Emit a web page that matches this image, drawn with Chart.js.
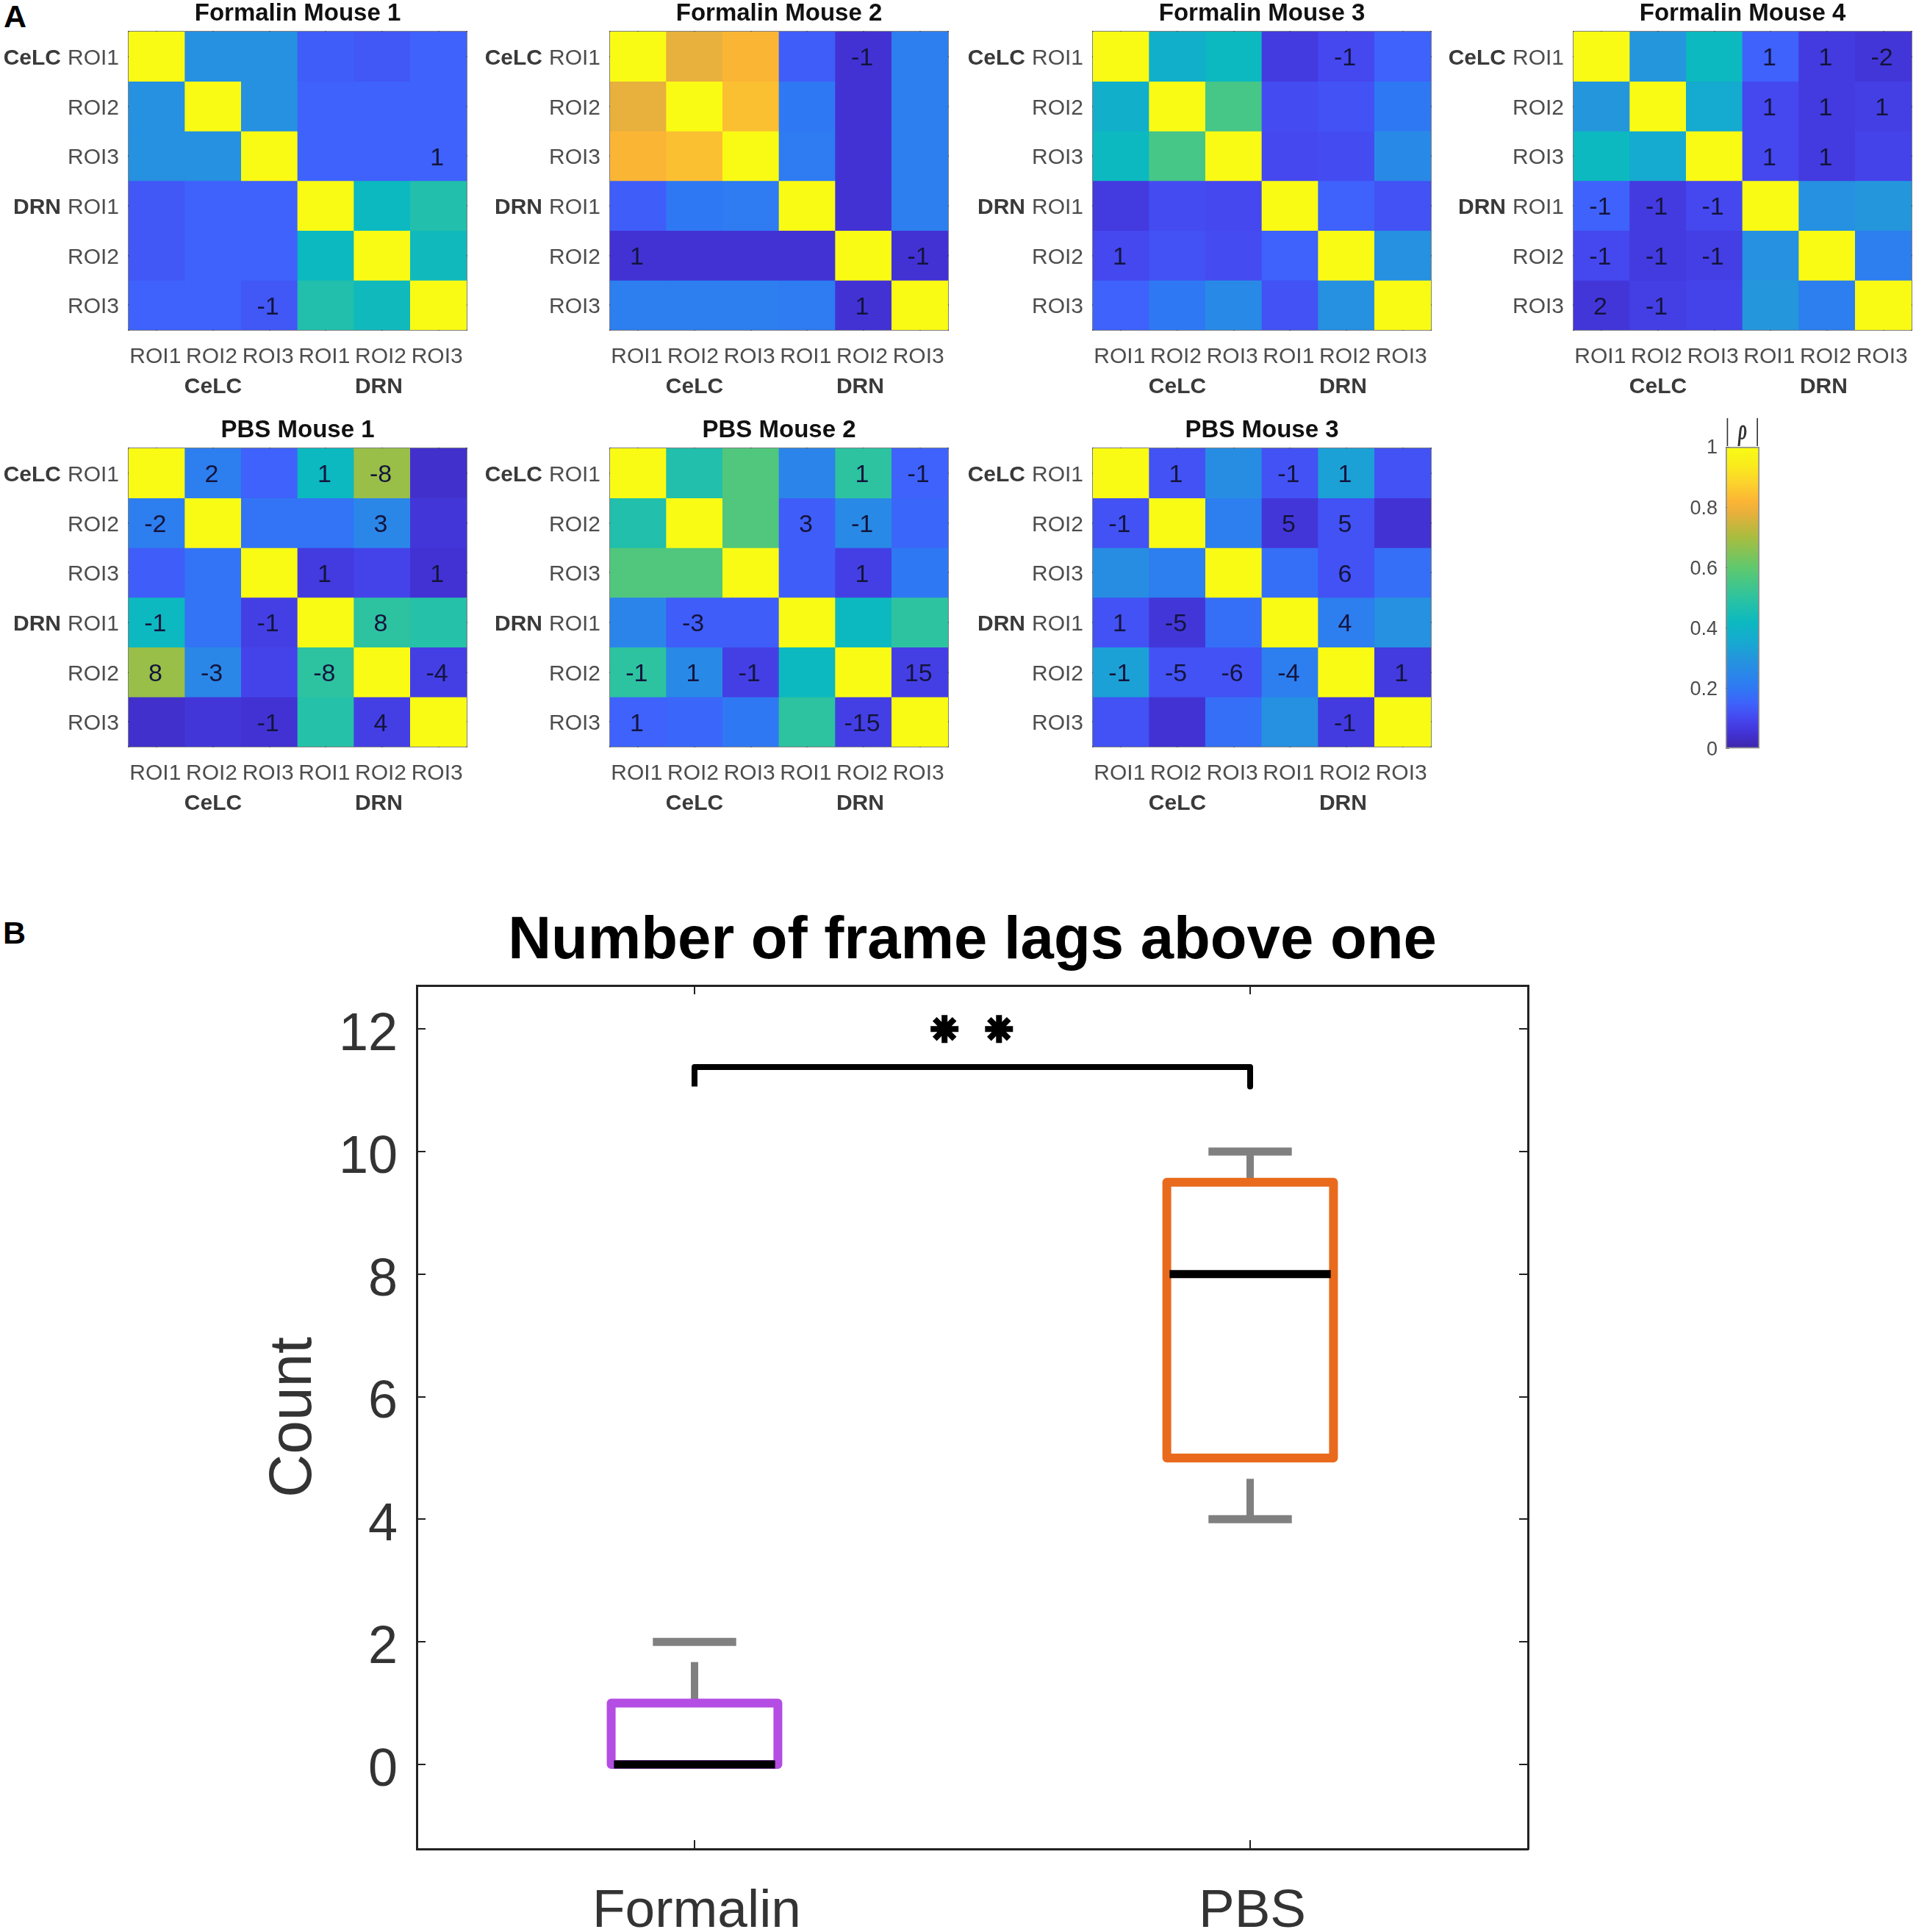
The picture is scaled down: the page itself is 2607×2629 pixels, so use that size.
<!DOCTYPE html>
<html>
<head>
<meta charset="utf-8">
<title>Frame lag correlation</title>
<script src="https://cdn.jsdelivr.net/npm/chart.js@4/dist/chart.umd.min.js"></script>
<style>
  html, body { margin: 0; padding: 0; background: #fff; }
  body { position: relative; width: 2607px; height: 2629px; overflow: hidden; font-family: "Liberation Sans", Arial, sans-serif; }
  canvas { position: absolute; }
  .tag { position: absolute; font-weight: bold; font-size: 43px; line-height: 43px; color: #000; }
</style>
</head>
<body>
<div class="tag" style="left:5px;top:1px">A</div>
<div class="tag" style="left:4px;top:1248px">B</div>
<script>
// colormap sampled off the colour bar
const colorStops = [
  [0.00, "#3e26a8"], [0.05, "#4232d4"], [0.10, "#4547ef"], [0.15, "#3e62fb"],
  [0.20, "#2f78f4"], [0.30, "#2496dc"], [0.35, "#17a8d2"], [0.42, "#0cb9c0"],
  [0.50, "#2dc3a0"], [0.60, "#5fc96e"], [0.70, "#a8bd3f"], [0.78, "#e8b03c"],
  [0.82, "#fbb535"], [0.88, "#fcd22c"], [0.94, "#f9ec1c"], [1.00, "#f9fb15"],
];

const roiLabels = ["ROI1", "ROI2", "ROI3", "ROI1", "ROI2", "ROI3"];
const regionLabels = ["CeLC", "DRN"];

// |rho| per cell
const rhoF1 = [
  [1, .28, .28, .14, .13, .15],
  [.28, 1, .28, .15, .15, .15],
  [.28, .28, 1, .15, .15, .15],
  [.13, .15, .15, 1, .42, .47],
  [.13, .15, .15, .42, 1, .43],
  [.15, .15, .13, .47, .43, 1],
];
const rhoF2 = [
  [1, .78, .82, .14, .05, .22],
  [.78, 1, .84, .2, .05, .22],
  [.82, .84, 1, .21, .05, .22],
  [.14, .2, .21, 1, .05, .22],
  [.05, .05, .05, .05, 1, .05],
  [.22, .22, .22, .21, .05, 1],
];
const rhoF3 = [
  [1, .38, .42, .07, .1, .15],
  [.38, 1, .55, .11, .12, .2],
  [.42, .55, 1, .1, .11, .26],
  [.07, .11, .1, 1, .15, .12],
  [.1, .12, .11, .15, 1, .28],
  [.15, .2, .26, .12, .28, 1],
];
const rhoF4 = [
  [1, .3, .42, .15, .07, .06],
  [.3, 1, .36, .1, .07, .08],
  [.42, .36, 1, .1, .07, .09],
  [.15, .07, .1, 1, .28, .3],
  [.1, .07, .08, .28, 1, .22],
  [.06, .08, .09, .3, .22, 1],
];
const rhoP1 = [
  [1, .22, .15, .42, .68, .04],
  [.22, 1, .19, .19, .25, .06],
  [.14, .19, 1, .07, .09, .05],
  [.42, .19, .08, 1, .5, .48],
  [.68, .25, .09, .5, 1, .08],
  [.04, .06, .05, .48, .08, 1],
];
const rhoP2 = [
  [1, .47, .57, .24, .5, .15],
  [.47, 1, .57, .14, .26, .16],
  [.57, .57, 1, .14, .08, .2],
  [.24, .14, .14, 1, .42, .5],
  [.5, .26, .08, .42, 1, .08],
  [.15, .16, .2, .5, .08, 1],
];
const rhoP3 = [
  [1, .12, .27, .12, .33, .12],
  [.12, 1, .22, .06, .12, .05],
  [.27, .22, 1, .18, .12, .18],
  [.12, .06, .18, 1, .22, .28],
  [.33, .12, .12, .22, 1, .07],
  [.12, .05, .18, .28, .07, 1],
];

// lag numbers printed in the cells, 0 = nothing printed
const lagF1 = [
  [0, 0, 0, 0, 0, 0], [0, 0, 0, 0, 0, 0], [0, 0, 0, 0, 0, 1],
  [0, 0, 0, 0, 0, 0], [0, 0, 0, 0, 0, 0], [0, 0, -1, 0, 0, 0],
];
const lagF2 = [
  [0, 0, 0, 0, -1, 0], [0, 0, 0, 0, 0, 0], [0, 0, 0, 0, 0, 0],
  [0, 0, 0, 0, 0, 0], [1, 0, 0, 0, 0, -1], [0, 0, 0, 0, 1, 0],
];
const lagF3 = [
  [0, 0, 0, 0, -1, 0], [0, 0, 0, 0, 0, 0], [0, 0, 0, 0, 0, 0],
  [0, 0, 0, 0, 0, 0], [1, 0, 0, 0, 0, 0], [0, 0, 0, 0, 0, 0],
];
const lagF4 = [
  [0, 0, 0, 1, 1, -2], [0, 0, 0, 1, 1, 1], [0, 0, 0, 1, 1, 0],
  [-1, -1, -1, 0, 0, 0], [-1, -1, -1, 0, 0, 0], [2, -1, 0, 0, 0, 0],
];
const lagP1 = [
  [0, 2, 0, 1, -8, 0], [-2, 0, 0, 0, 3, 0], [0, 0, 0, 1, 0, 1],
  [-1, 0, -1, 0, 8, 0], [8, -3, 0, -8, 0, -4], [0, 0, -1, 0, 4, 0],
];
const lagP2 = [
  [0, 0, 0, 0, 1, -1], [0, 0, 0, 3, -1, 0], [0, 0, 0, 0, 1, 0],
  [0, -3, 0, 0, 0, 0], [-1, 1, -1, 0, 0, 15], [1, 0, 0, 0, -15, 0],
];
const lagP3 = [
  [0, 1, 0, -1, 1, 0], [-1, 0, 0, 5, 5, 0], [0, 0, 0, 0, 6, 0],
  [1, -5, 0, 0, 4, 0], [-1, -5, -6, -4, 0, 1], [0, 0, 0, 0, -1, 0],
];

const colorbarTicks = [0, 0.2, 0.4, 0.6, 0.8, 1];

// panel B
const boxLabels = ["Formalin", "PBS"];
const boxTicksY = [0, 2, 4, 6, 8, 10, 12];
const formalinBox = [[0.85, 0], [1.15, 0], [1.15, 1], [0.85, 1], [0.85, 0]];
const pbsBox = [[1.85, 5], [2.15, 5], [2.15, 9.5], [1.85, 9.5], [1.85, 5]];
const medians = [[[0.855, 0], [1.145, 0]], [[1.855, 8], [2.145, 8]]];
const whiskers = [[[1, 1], [1, 1.67]], [[2, 9.5], [2, 10]], [[2, 4], [2, 4.66]]];
const caps = [[[0.925, 2], [1.075, 2]], [[1.925, 10], [2.075, 10]], [[1.925, 4], [2.075, 4]]];
const bracket = [[1, 11.06], [1, 11.38], [2, 11.38], [2, 11.06]];
const stars = [[1.45, 12], [1.548, 12]];

function hexToRgb(h) {
  return [1, 3, 5].map((i) => parseInt(h.substr(i, 2), 16));
}
function rhoColor(v) {
  for (let i = 1; i < colorStops.length; i++) {
    if (v <= colorStops[i][0]) {
      const a = colorStops[i - 1], b = colorStops[i];
      const t = (v - a[0]) / (b[0] - a[0]);
      const ca = hexToRgb(a[1]), cb = hexToRgb(b[1]);
      const c = ca.map((x, k) => Math.round(x + (cb[k] - x) * t));
      return `rgb(${c[0]},${c[1]},${c[2]})`;
    }
  }
  return colorStops[colorStops.length - 1][1];
}

function addCanvas(left, top, w, h) {
  const c = document.createElement("canvas");
  c.width = w;
  c.height = h;
  c.style.left = left + "px";
  c.style.top = top + "px";
  c.style.width = w + "px";
  c.style.height = h + "px";
  document.body.appendChild(c);
  return c;
}

Chart.defaults.font.family = '"Liberation Sans", Arial, sans-serif';
Chart.defaults.animation = false;

// draws the printed lags and the bold region names, from the chart's scales
const heatText = {
  id: "heatText",
  afterDraw(chart, args, opts) {
    const { ctx, scales } = chart;
    ctx.save();
    ctx.textAlign = "center";
    ctx.textBaseline = "middle";
    ctx.font = '34px "Liberation Sans"';
    ctx.fillStyle = "#14143c";
    opts.lags.forEach((row, r) => {
      row.forEach((v, c) => {
        if (v !== 0) ctx.fillText(String(v), scales.x.getPixelForValue(c) - 2, scales.y.getPixelForValue(r + 0.5) + 3);
      });
    });
    ctx.font = 'bold 30px "Liberation Sans"';
    ctx.fillStyle = "#3a3a3a";
    const groupX = [1, 3.94];
    groupX.forEach((c, i) => {
      ctx.fillText(regionLabels[i], scales.x.getPixelForValue(c), chart.chartArea.bottom + 78);
    });
    ctx.textAlign = "right";
    const groupY = [0.5, 3.5];
    groupY.forEach((r, i) => {
      ctx.fillText(regionLabels[i], scales.x.left - 92, scales.y.getPixelForValue(r) + 3);
    });
    ctx.restore();
  },
};

function heatmap(title, rho, lags, panelLeft, panelTop) {
  const canvas = addCanvas(panelLeft - 174, panelTop - 43, 694, 550);
  const frame = "rgba(60,60,60,0.65)";
  const xGrid = { drawOnChartArea: false, tickLength: -6, color: frame, lineWidth: 2, offset: false };
  const yGrid = { drawOnChartArea: false, tickLength: -6, color: frame, lineWidth: 2 };
  const yTicks = (s) => { s.ticks = roiLabels.map((n, i) => ({ value: i + 0.5 })); };
  new Chart(canvas, {
    type: "bar",
    plugins: [heatText],
    data: {
      labels: roiLabels,
      datasets: rho.map((row) => ({
        data: row.map(() => 1),
        backgroundColor: row.map(rhoColor),
        borderWidth: 0,
        barPercentage: 1,
        categoryPercentage: 1,
      })),
    },
    options: {
      responsive: false,
      devicePixelRatio: 1,
      layout: { padding: { right: 60 } },
      plugins: {
        legend: { display: false },
        tooltip: { enabled: false },
        heatText: { lags },
        title: {
          display: true,
          text: title,
          fullSize: false,
          color: "#111",
          font: { size: 33, weight: "bold", lineHeight: 1 },
          padding: { top: 2, bottom: 8 },
        },
      },
      scales: {
        x: {
          stacked: true,
          grid: xGrid,
          border: { color: frame, width: 2 },
          ticks: { font: { size: 30 }, color: "#4d4d4d", padding: 25, labelOffset: -2, maxRotation: 0, autoSkip: false },
          afterFit: (s) => { s.height = 101; },
        },
        y: {
          stacked: true,
          reverse: true,
          min: 0,
          max: 6,
          grid: yGrid,
          border: { color: frame, width: 2 },
          afterBuildTicks: yTicks,
          ticks: {
            font: { size: 30 },
            color: "#4d4d4d",
            padding: 19,
            labelOffset: 3,
            callback: (v) => roiLabels[Math.floor(v)],
          },
          afterFit: (s) => { s.width = 174; },
        },
        xTop: {
          type: "category",
          position: "top",
          offset: true,
          grid: xGrid,
          border: { color: frame, width: 2 },
          ticks: { callback: () => "" },
          afterFit: (s) => { s.height = 0; },
        },
        yRight: {
          type: "linear",
          position: "right",
          reverse: true,
          min: 0,
          max: 6,
          grid: yGrid,
          border: { color: frame, width: 2 },
          afterBuildTicks: yTicks,
          ticks: { callback: () => "" },
          afterFit: (s) => { s.width = 0; },
        },
      },
    },
  });
}

heatmap("Formalin Mouse 1", rhoF1, lagF1, 175, 43);
heatmap("Formalin Mouse 2", rhoF2, lagF2, 830, 43);
heatmap("Formalin Mouse 3", rhoF3, lagF3, 1487, 43);
heatmap("Formalin Mouse 4", rhoF4, lagF4, 2141, 43);
heatmap("PBS Mouse 1", rhoP1, lagP1, 175, 610);
heatmap("PBS Mouse 2", rhoP2, lagP2, 830, 610);
heatmap("PBS Mouse 3", rhoP3, lagP3, 1487, 610);

// colour bar: one floating bar filled with the colormap
new Chart(addCanvas(2275, 560, 150, 491), {
  type: "bar",
  data: {
    labels: [""],
    datasets: [{
      data: [[0, 1]],
      barPercentage: 1,
      categoryPercentage: 1,
      borderWidth: 2,
      borderSkipped: false,
      borderColor: "rgba(70,70,70,0.6)",
      backgroundColor(ctx) {
        const area = ctx.chart.chartArea;
        if (!area) return colorStops[0][1];
        const g = ctx.chart.ctx.createLinearGradient(0, area.bottom, 0, area.top);
        colorStops.forEach((s) => g.addColorStop(s[0], s[1]));
        return g;
      },
    }],
  },
  options: {
    responsive: false,
    devicePixelRatio: 1,
    layout: { padding: { right: 31, bottom: 24 } },
    plugins: {
      legend: { display: false },
      tooltip: { enabled: false },
      title: {
        display: true,
        text: "|  ρ  |",
        fullSize: false,
        color: "#333",
        font: { family: '"Liberation Serif"', style: "italic", size: 42, lineHeight: 1 },
        padding: { top: 6, bottom: 0 },
      },
    },
    scales: {
      x: { display: false },
      y: {
        min: 0,
        max: 1,
        grid: { drawOnChartArea: false, tickLength: -5, color: "rgba(60,60,60,0.6)", lineWidth: 1 },
        border: { display: false },
        afterBuildTicks: (s) => { s.ticks = colorbarTicks.map((v) => ({ value: v })); },
        ticks: { font: { size: 27 }, color: "#4d4d4d", padding: 16, labelOffset: 2, callback: (v) => String(v) },
        afterFit: (s) => { s.width = 73; },
      },
    },
  },
});

// panel B, everything is a line through the linear scales
const lineSet = (pts, color, width) => ({
  data: pts.map((p) => ({ x: p[0], y: p[1] })),
  showLine: true,
  borderColor: color,
  borderWidth: width,
  pointRadius: 0,
  borderJoinStyle: "round",
  tension: 0,
});

// chart.js paints the first dataset last, so medians go first
const boxDatasets = [];
medians.forEach((w) => boxDatasets.push(lineSet(w, "#000", 11)));
boxDatasets.push(lineSet(formalinBox, "#b34de3", 12));
boxDatasets.push(lineSet(pbsBox, "#e96a1c", 12));
whiskers.forEach((w) => boxDatasets.push(lineSet(w, "#808080", 10)));
caps.forEach((w) => boxDatasets.push(lineSet(w, "#808080", 11)));
boxDatasets.push(lineSet(bracket, "#000", 8));
boxDatasets.push({
  data: stars.map((p) => ({ x: p[0], y: p[1] })),
  showLine: false,
  pointStyle: "star",
  pointRadius: 19,
  pointBorderWidth: 8,
  pointBorderColor: "#000",
  pointBackgroundColor: "#000",
});

const axisDark = "#222";
new Chart(addCanvas(0, 1220, 2200, 1409), {
  type: "scatter",
  data: { datasets: boxDatasets },
  options: {
    responsive: false,
    devicePixelRatio: 1,
    layout: { padding: { right: 121 } },
    plugins: {
      legend: { display: false },
      tooltip: { enabled: false },
      title: {
        display: true,
        text: "Number of frame lags above one",
        fullSize: false,
        color: "#000",
        font: { size: 81.5, weight: "bold", lineHeight: 1 },
        padding: { top: 21, bottom: 18.5 },
      },
    },
    scales: {
      x: {
        min: 0.5,
        max: 2.5,
        grid: { drawOnChartArea: false, tickLength: -12, color: axisDark, lineWidth: 2 },
        border: { color: axisDark, width: 3 },
        afterBuildTicks: (s) => { s.ticks = boxLabels.map((n, i) => ({ value: i + 1 })); },
        ticks: { font: { size: 73 }, color: "#333", padding: 54, labelOffset: 3, maxRotation: 0, callback: (v) => boxLabels[v - 1] },
        afterFit: (s) => { s.height = 113; },
      },
      y: {
        min: -1.38,
        max: 12.71,
        grid: { drawOnChartArea: false, tickLength: -12, color: axisDark, lineWidth: 2 },
        border: { color: axisDark, width: 3 },
        afterBuildTicks: (s) => { s.ticks = boxTicksY.map((v) => ({ value: v })); },
        ticks: { font: { size: 72 }, color: "#333", padding: 38, labelOffset: 9 },
        title: { display: true, text: "Count", color: "#333", font: { size: 82 }, padding: { top: 351, bottom: 0 } },
        afterFit: (s) => { s.width = 567; },
      },
      xTop: {
        type: "linear",
        position: "top",
        min: 0.5,
        max: 2.5,
        grid: { drawOnChartArea: false, tickLength: -12, color: axisDark, lineWidth: 2 },
        border: { color: axisDark, width: 3 },
        afterBuildTicks: (s) => { s.ticks = boxLabels.map((n, i) => ({ value: i + 1 })); },
        ticks: { callback: () => "" },
        afterFit: (s) => { s.height = 0; },
      },
      yRight: {
        type: "linear",
        position: "right",
        min: -1.38,
        max: 12.71,
        grid: { drawOnChartArea: false, tickLength: -12, color: axisDark, lineWidth: 2 },
        border: { color: axisDark, width: 3 },
        afterBuildTicks: (s) => { s.ticks = boxTicksY.map((v) => ({ value: v })); },
        ticks: { callback: () => "" },
        afterFit: (s) => { s.width = 0; },
      },
    },
  },
});
</script>
</body>
</html>
